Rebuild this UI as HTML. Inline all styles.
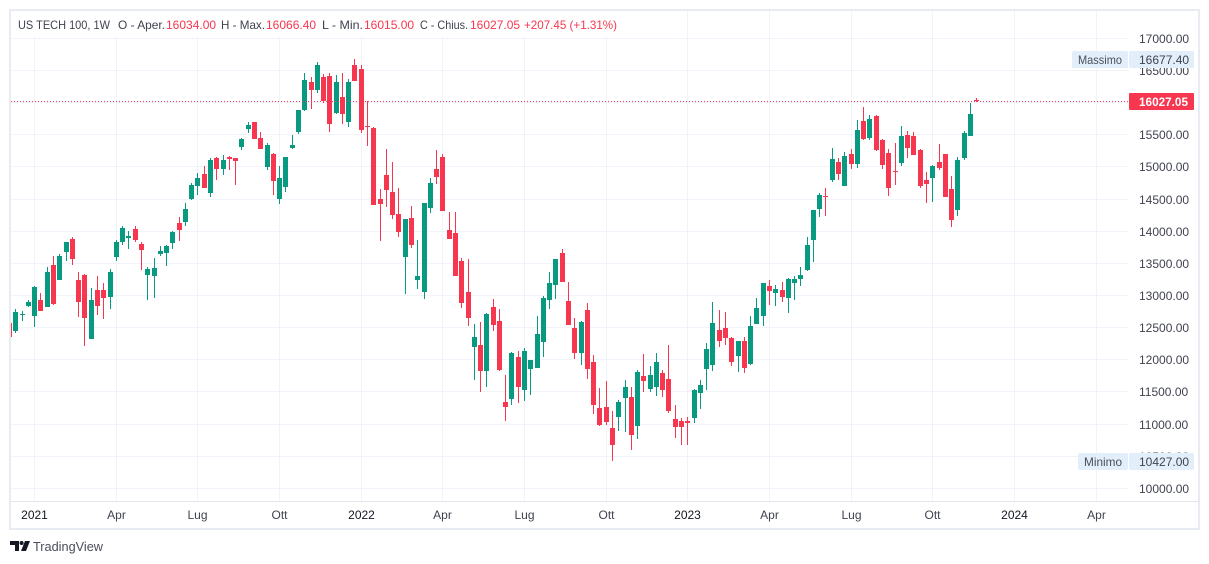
<!DOCTYPE html>
<html lang="it">
<head>
<meta charset="utf-8">
<title>US TECH 100, 1W</title>
<style>
html,body{margin:0;padding:0;background:#fff;width:1209px;height:564px;overflow:hidden}
svg{display:block;font-family:"Liberation Sans",sans-serif}
</style>
</head>
<body>
<svg id="chart" xmlns="http://www.w3.org/2000/svg" width="1209" height="564" viewBox="0 0 1209 564">
  <defs><clipPath id="plot-clip"><rect x="11" y="11" width="1118" height="490"/></clipPath></defs>
  <rect x="10" y="10" width="1189" height="519" fill="#fff" stroke="#e9ebf2" stroke-width="2"/>
  <g id="grid" clip-path="url(#plot-clip)" shape-rendering="crispEdges"></g>
  <g id="candles" clip-path="url(#plot-clip)" shape-rendering="crispEdges"></g>
  <rect x="11" y="11" width="612" height="26" fill="#fff"/>
  <g font-size="12" fill="#3f434f">
    <text x="18" y="29" textLength="92" lengthAdjust="spacingAndGlyphs">US TECH 100, 1W</text>
    <text x="118" y="29" textLength="47" lengthAdjust="spacingAndGlyphs">O - Aper.</text>
    <text x="166" y="29" fill="#f7374f">16034.00</text>
    <text x="221" y="29" textLength="44" lengthAdjust="spacingAndGlyphs">H - Max.</text>
    <text x="266" y="29" fill="#f7374f">16066.40</text>
    <text x="322" y="29" textLength="41" lengthAdjust="spacingAndGlyphs">L - Min.</text>
    <text x="364" y="29" fill="#f7374f">16015.00</text>
    <text x="420" y="29" textLength="48" lengthAdjust="spacingAndGlyphs">C - Chius.</text>
    <text x="470" y="29" fill="#f7374f">16027.05</text>
    <text x="524" y="29" fill="#f7374f" textLength="93" lengthAdjust="spacingAndGlyphs">+207.45 (+1.31%)</text>
  </g>
  <g id="price-axis" font-size="12" fill="#3f434f"></g>
  <g id="time-axis" font-size="12" fill="#3f434f"></g>
  <line x1="11" y1="501.5" x2="1199" y2="501.5" stroke="#e3e5ec" stroke-width="1" shape-rendering="crispEdges"/>
  <line id="last-price-line" x1="11" x2="1129" stroke="#f7374f" stroke-width="1" stroke-dasharray="1 2" shape-rendering="crispEdges"/>
  <g>
    <rect x="1072" y="51" width="56" height="17" rx="2" fill="#e3eefb"/>
    <text x="1078" y="64" font-size="12" fill="#4a4e5c" textLength="44" lengthAdjust="spacingAndGlyphs">Massimo</text>
    <rect x="1129" y="51" width="65" height="17" rx="2" fill="#e3eefb"/>
    <text x="1139" y="64" font-size="12" fill="#3f434f">16677.40</text>
  </g>
  <g>
    <rect x="1078" y="453" width="50" height="17" rx="2" fill="#e3eefb"/>
    <text x="1084" y="466" font-size="12" fill="#4a4e5c" textLength="38" lengthAdjust="spacingAndGlyphs">Minimo</text>
    <rect x="1129" y="453" width="65" height="17" rx="2" fill="#e3eefb"/>
    <text x="1139" y="466" font-size="12" fill="#3f434f">10427.00</text>
  </g>
  <g>
    <rect x="1129" y="93" width="65" height="17" rx="1" fill="#f7374f"/>
    <text x="1139" y="106" font-size="12" font-weight="700" fill="#fff" textLength="49" lengthAdjust="spacingAndGlyphs">16027.05</text>
  </g>
  <g>
    <g fill="#131722">
      <path d="M10 541h9v10h-4v-6h-5z"/>
      <circle cx="21.6" cy="543" r="2"/>
      <path d="M25 541h5l-4 10h-5z"/>
    </g>
    <text x="33" y="551" font-size="13" fill="#4a4e5c" textLength="70" lengthAdjust="spacingAndGlyphs">TradingView</text>
  </g>
</svg>
<script>
var firstWeek = -4;
var opens = [12573,12449,12698,12838,12682,12931,12822,13475,13242,13677,13879,13242,13319,12324,13087,13087,12978,13600,13833,13895,14035,13802,13319,13304,13646,13662,13817,14128,14144,14502,14703,14890,14595,15139,14968,15155,15139,15310,15590,15699,15450,14999,15201,14502,14688,15295,15543,15886,16321,16197,16398,16414,15839,16088,15699,16585,16523,15637,15606,14502,14875,14610,14269,13600,14206,13242,13056,14362,14968,15155,14020,13973,13537,13056,12200,12231,11827,12822,12604,11345,11392,12045,11532,11858,11874,12278,12931,13164,13662,12915,12496,12107,12776,11967,11252,11267,10941,11111,11407,11423,10972,11749,11547,11578,11796,11703,11080,11049,11049,11096,11485,11858,11920,12465,12496,12340,12060,12293,11936,12558,12682,13149,13040,13087,12962,13195,13257,13398,13864,14346,14548,14797,15077,14703,15201,15046,15715,15450,15792,15419,15217,14937,15061,15497,15481,15264,14797,14828,15077,15201,14657,14331,15139,15481,16034];
var highs = [12573,12791,12760,12931,13149,13040,13444,13615,13646,13833,13910,13366,13335,13118,13304,13195,13413,13864,14082,14004,14082,13833,13444,13584,13771,13786,14004,14222,14439,14750,14906,15015,15139,15155,15186,15170,15139,15450,15699,15699,15543,15372,15217,15015,15155,15497,15886,16461,16398,16632,16445,16461,16430,16461,16367,16679,16585,16025,15621,14657,15279,15077,14672,14191,14393,13864,14439,14828,15264,15201,14300,14300,13584,13569,12558,12589,12729,12947,12791,11765,12122,12138,12184,11998,12682,12993,13366,13569,13724,13211,12651,12604,12884,12076,11563,11671,11205,11376,11687,11578,11843,12091,11904,12107,11843,12231,11298,11096,11111,11547,11687,12262,12900,12776,12745,12356,12293,12356,12682,12962,13195,13242,13164,13211,13273,13304,13444,13910,14331,14595,14672,15295,15139,15232,15279,15730,15932,15808,15808,15435,15279,15372,15637,15559,15543,15279,14921,15030,15357,15201,14859,15155,15559,15994,16066.4];
var lows = [12356,12418,12604,12822,12511,12760,12822,12853,13242,13537,13475,12666,12216,12324,12698,12635,12791,13537,13786,13724,13833,13398,12931,12962,13615,13460,13724,13848,14082,14486,14564,14672,14533,14797,14875,14953,14719,15264,15528,15435,15279,14953,14564,14424,14610,15279,15512,15870,15901,16150,15994,15543,15823,15668,15621,16336,15528,15326,14408,13848,14377,14191,13910,13025,13740,13102,12947,14284,14735,14315,13879,13304,12807,12527,11687,11500,11578,12449,11827,11049,11298,11329,11360,11454,11874,12045,12791,12947,13211,12542,12014,11920,11703,11158,10972,10987,10427,10894,10879,10599,10769,11500,11500,11438,11423,11174,10785,10676,10676,11018,11236,11532,11827,12200,12231,11904,11811,11796,11920,12558,12527,12853,12838,12900,12729,12931,13149,13382,13522,14222,14237,14766,14797,14703,14968,14984,15419,15419,15248,14968,14548,14719,15015,15139,15186,14672,14439,14455,14953,14533,14066,14237,15108,15481,16015];
var closes = [12356,12745,12713,12900,13133,12760,13366,12869,13615,13833,13569,12900,12651,12931,12838,12962,13366,13833,14050,13926,13864,13709,13413,13429,13693,13771,13989,14020,14346,14719,14828,14672,15108,14968,15108,15124,15092,15435,15652,15435,15279,15341,14781,14828,15155,15341,15886,16352,16197,16585,16025,15668,16321,15823,16321,16336,15575,15621,14408,14424,14642,14253,13989,14191,13786,13304,14439,14750,14843,14315,13879,13304,12884,12651,12356,11827,12713,12542,11843,11267,12107,11578,12138,11998,12402,12962,13195,13569,13211,12542,12107,12589,11858,11298,10987,11034,10676,11345,11578,10832,11811,11671,11765,11967,11532,11205,10956,10956,11018,11532,11609,12169,12573,12293,12340,11967,12293,11874,12527,12807,13195,13071,13102,12978,13257,13257,13319,13786,14331,14564,14533,15124,14890,15170,15046,15575,15435,15746,15264,15030,14672,14921,15481,15295,15186,14703,14735,15015,14984,14533,14175,15108,15528,15823,16027.05];
var priceTicks = [17000,16500,16000,15500,15000,14500,14000,13500,13000,12500,12000,11500,11000,10500,10000];
var timeTickWeeks = [0,13,26,39,52,65,78,91,104,117,130,143,156,169];
var timeTickLabels = ["2021","Apr","Lug","Ott","2022","Apr","Lug","Ott","2023","Apr","Lug","Ott","2024","Apr"];
var lastPrice = 16027.05;

var NS = "http://www.w3.org/2000/svg";
var UP = "#089981", DOWN = "#f7374f";
function xScale(week){ return Math.round(34.2 + week * 6.28); }
function yScale(price){ return 38.3 + (17000 - price) * 0.0643; }
function make(tag, parent, attrs, text){
  var el = document.createElementNS(NS, tag);
  for (var k in attrs) el.setAttribute(k, attrs[k]);
  if (text !== undefined) el.textContent = text;
  parent.appendChild(el);
  return el;
}
var gridG = document.getElementById("grid");
var candlesG = document.getElementById("candles");
var priceG = document.getElementById("price-axis");
var timeG = document.getElementById("time-axis");

priceTicks.forEach(function(p){
  var y = Math.floor(yScale(p)) + 0.5;
  var gl = make("line", gridG, {x1:11, x2:1129, y1:y, y2:y, stroke:"#f0f3fa"});
  
  
  var t = make("text", priceG, {x:1139, y:Math.floor(yScale(p)) + 5}, p.toFixed(2));
  
  
});
timeTickWeeks.forEach(function(w, i){
  var x = xScale(w) + 0.5;
  var gl = make("line", gridG, {x1:x, x2:x, y1:11, y2:501, stroke:"#f0f3fa"});
  
  
  var isYear = /^\d+$/.test(timeTickLabels[i]);
  var t = make("text", timeG, {x:x, y:519, "text-anchor":"middle", fill: isYear ? "#131722" : "#3f434f"}, timeTickLabels[i]);
  
  
});
opens.forEach(function(o, i){
  var c = closes[i];
  var color = c >= o ? UP : DOWN;
  var x = xScale(firstWeek + i);
  var top = Math.round(yScale(Math.max(o, c)));
  var bottom = Math.round(yScale(Math.min(o, c)));
  var wickTop = Math.round(yScale(highs[i]));
  var wickBottom = Math.round(yScale(lows[i]));
  var g = make("g", candlesG, {fill:color});
  
  
  var wick = make("rect", g, {x:x, y:wickTop, width:1, height:Math.max(1, wickBottom - wickTop)});
  
  
  var body = make("rect", g, {x:x - 2, y:top, width:5, height:Math.max(1, bottom - top)});
  
  
});
var ly = Math.round(yScale(lastPrice)) + 0.5;
var line = document.getElementById("last-price-line");
line.setAttribute("y1", ly);
line.setAttribute("y2", ly);
</script>
</body>
</html>
